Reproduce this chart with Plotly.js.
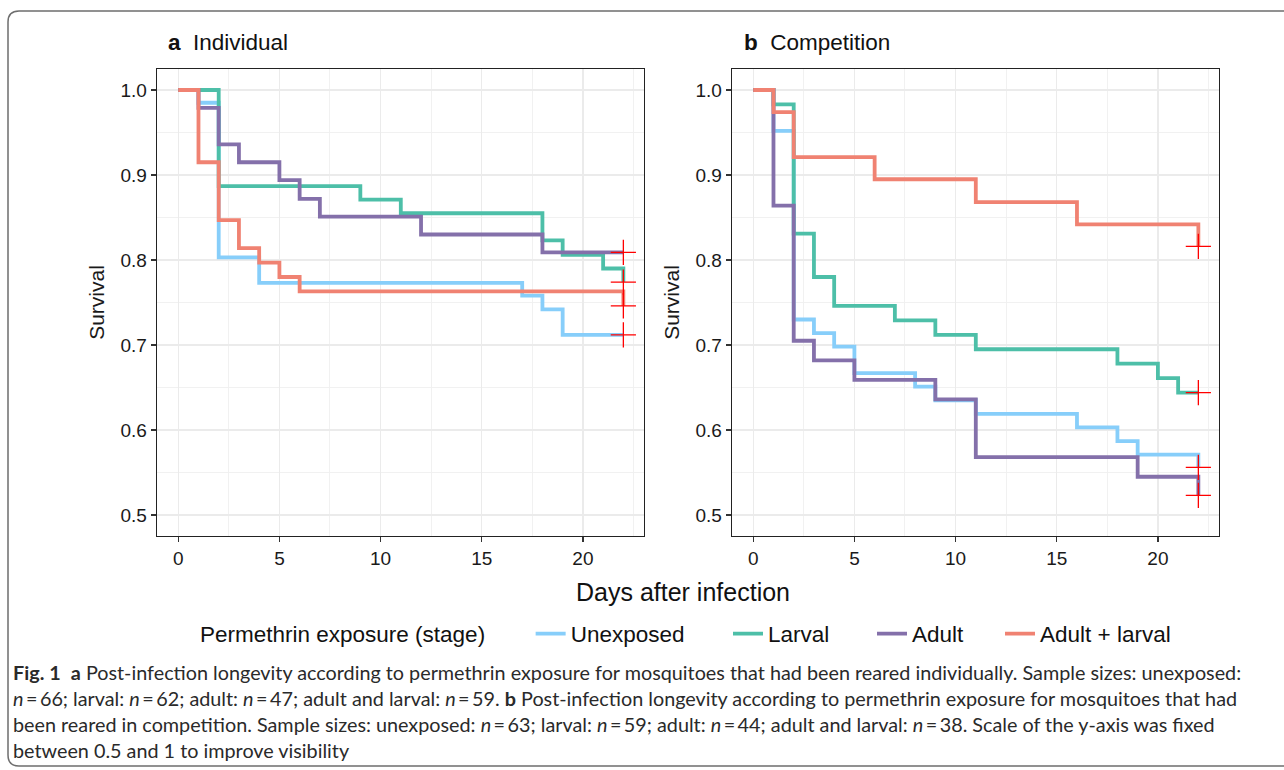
<!DOCTYPE html>
<html>
<head>
<meta charset="utf-8">
<script src="https://cdn.plot.ly/plotly-3.0.1.min.js"></script>
<style>
  html, body { margin: 0; padding: 0; background: #ffffff; }
  #chart { width: 1284px; height: 770px; }
</style>
</head>
<body>
<div id="chart"></div>
<script>
// ---------- data ----------
const groups = ["Unexposed", "Larval", "Adult", "Adult + larval"];
const groupColors = ["#87cefa", "#4dbfa8", "#8470aa", "#f08272"];

// Panel a: Individual
const indUnexposedT = [0, 1, 2, 4, 17, 18, 19, 22];
const indUnexposedS = [1, 0.985, 0.803, 0.773, 0.758, 0.742, 0.712, 0.712];
const indLarvalT = [0, 2, 9, 11, 18, 19, 21, 22];
const indLarvalS = [1, 0.887, 0.871, 0.855, 0.823, 0.806, 0.790, 0.774];
const indAdultT = [0, 1, 2, 3, 5, 6, 7, 12, 18, 22];
const indAdultS = [1, 0.979, 0.936, 0.915, 0.894, 0.872, 0.851, 0.830, 0.809, 0.809];
const indBothT = [0, 1, 2, 3, 4, 5, 6, 22];
const indBothS = [1, 0.915, 0.847, 0.814, 0.797, 0.780, 0.763, 0.746];

// Panel b: Competition
const compUnexposedT = [0, 1, 2, 3, 4, 5, 8, 9, 11, 16, 18, 19, 22];
const compUnexposedS = [1, 0.952, 0.730, 0.714, 0.698, 0.667, 0.651, 0.635, 0.619, 0.603, 0.587, 0.571, 0.556];
const compLarvalT = [0, 1, 2, 3, 4, 7, 9, 11, 18, 20, 21, 22];
const compLarvalS = [1, 0.983, 0.831, 0.780, 0.746, 0.729, 0.712, 0.695, 0.678, 0.661, 0.644, 0.644];
const compAdultT = [0, 1, 2, 3, 5, 9, 11, 19, 22];
const compAdultS = [1, 0.864, 0.705, 0.682, 0.659, 0.636, 0.568, 0.545, 0.523];
const compBothT = [0, 1, 2, 6, 11, 16, 22];
const compBothS = [1, 0.974, 0.921, 0.895, 0.868, 0.842, 0.816];

const xTicks = [0, 5, 10, 15, 20];
const yTicks = [0.5, 0.6, 0.7, 0.8, 0.9, 1.0];

const panelTitles = ["<b>a</b>  Individual", "<b>b</b>  Competition"];
const xTitle = "Days after infection";
const yTitle = "Survival";
const legendTitle = "Permethrin exposure (stage)";

const captionLines = [
  "<b>Fig. 1</b>  <b>a</b> Post-infection longevity according to permethrin exposure for mosquitoes that had been reared individually. Sample sizes: unexposed:",
  "<i>n</i>\u2009=\u200966; larval: <i>n</i>\u2009=\u200962; adult: <i>n</i>\u2009=\u200947; adult and larval: <i>n</i>\u2009=\u200959. <b>b</b> Post-infection longevity according to permethrin exposure for mosquitoes that had",
  "been reared in competition. Sample sizes: unexposed: <i>n</i>\u2009=\u200963; larval: <i>n</i>\u2009=\u200959; adult: <i>n</i>\u2009=\u200944; adult and larval: <i>n</i>\u2009=\u200938. Scale of the y-axis was fixed",
  "between 0.5 and 1 to improve visibility"
];

// ---------- build ----------
const W = 1284, H = 770;
const px = v => v / W;
const py = v => 1 - v / H;
const FONT = "Liberation Sans, Arial, sans-serif";

const panels = [
  { xa: "x", ya: "y", series: [[indUnexposedT, indUnexposedS], [indLarvalT, indLarvalS], [indAdultT, indAdultS], [indBothT, indBothS]] },
  { xa: "x2", ya: "y2", series: [[compUnexposedT, compUnexposedS], [compLarvalT, compLarvalS], [compAdultT, compAdultS], [compBothT, compBothS]] }
];
const legendIds = ["legend", "legend2", "legend3", "legend4"];

const traces = [];
panels.forEach((p, pi) => {
  p.series.forEach((ts, gi) => {
    traces.push({
      type: "scatter", mode: "lines",
      x: ts[0], y: ts[1], xaxis: p.xa, yaxis: p.ya,
      line: { shape: "hv", color: groupColors[gi], width: 3.8 },
      name: groups[gi], legendgroup: groups[gi], legend: legendIds[gi],
      showlegend: pi === 0, hoverinfo: "skip"
    });
  });
  // censor marks at the end of each curve
  traces.push({
    type: "scatter", mode: "markers",
    x: p.series.map(ts => ts[0][ts[0].length - 1]),
    y: p.series.map(ts => ts[1][ts[1].length - 1]),
    xaxis: p.xa, yaxis: p.ya, showlegend: false, hoverinfo: "skip",
    marker: { symbol: "cross-thin", size: 18, color: "#ff0000", line: { color: "#ff0000", width: 1.3 } }
  });
});

const tickFont = { family: FONT, size: 19, color: "#1a1a1a" };
function xAxis(domain) {
  return {
    domain: domain, range: [-1.05, 23.02], tickmode: "array", tickvals: xTicks,
    ticks: "outside", ticklen: 5, tickwidth: 1.2, tickcolor: "#333",
    showline: true, mirror: true, linecolor: "#222", linewidth: 1.3,
    showgrid: true, gridcolor: "#ebebeb", gridwidth: 1.3,
    minor: { dtick: 2.5, tick0: 0, showgrid: true, gridcolor: "#efefef", gridwidth: 0.9, ticks: "" },
    zeroline: false, tickfont: tickFont, fixedrange: true
  };
}
function yAxis(anchor) {
  return {
    domain: [py(536), py(69)], range: [0.4753, 1.0247], anchor: anchor,
    tickmode: "array", tickvals: yTicks, ticktext: yTicks.map(v => v.toFixed(1)),
    ticks: "outside", ticklen: 5, tickwidth: 1.2, tickcolor: "#333",
    showline: true, mirror: true, linecolor: "#222", linewidth: 1.3,
    showgrid: true, gridcolor: "#ebebeb", gridwidth: 1.3,
    minor: { dtick: 0.05, tick0: 0.5, showgrid: true, gridcolor: "#efefef", gridwidth: 0.9, ticks: "" },
    zeroline: false, tickfont: tickFont, fixedrange: true,
    title: { text: yTitle, font: { family: FONT, size: 21, color: "#1a1a1a" }, standoff: 10 }
  };
}

// rounded frame
const fx0 = 8, fy0 = 11, fx1 = 1300, fy1 = 766, r = 11;
const framePath = [
  `M ${px(fx1)},${py(fy0)}`,
  `L ${px(fx0 + r)},${py(fy0)}`,
  `Q ${px(fx0)},${py(fy0)} ${px(fx0)},${py(fy0 + r)}`,
  `L ${px(fx0)},${py(fy1 - r)}`,
  `Q ${px(fx0)},${py(fy1)} ${px(fx0 + r)},${py(fy1)}`,
  `L ${px(fx1)},${py(fy1)}`
].join(" ");

const annotations = [];
panelTitles.forEach((t, i) => {
  annotations.push({
    text: t, xref: "paper", yref: "paper", x: px(i === 0 ? 166 : 742), y: py(42),
    xanchor: "left", yanchor: "middle", showarrow: false,
    font: { family: FONT, size: 22.5, color: "#111" }
  });
});
annotations.push({
  text: xTitle, xref: "paper", yref: "paper", x: px(683), y: py(592),
  xanchor: "center", yanchor: "middle", showarrow: false,
  font: { family: FONT, size: 25, color: "#111" }
});
const capY = [672, 698, 724, 750];
captionLines.forEach((t, i) => {
  annotations.push({
    text: t, xref: "paper", yref: "paper", x: px(11), y: py(capY[i]),
    xanchor: "left", yanchor: "middle", showarrow: false, align: "left",
    font: { family: "Lato, Open Sans, sans-serif", size: 19.8, color: "#2a2a2a" }
  });
});

const legFont = { family: FONT, size: 22.5, color: "#111" };
function legendAt(x, withTitle) {
  const l = {
    orientation: "h", x: px(x), y: py(634), xanchor: "left", yanchor: "middle",
    font: legFont, bgcolor: "rgba(0,0,0,0)", itemwidth: 30, borderwidth: 0
  };
  if (withTitle) l.title = { text: legendTitle + "      ", side: "left", font: legFont };
  return l;
}

const layout = {
  width: W, height: H, margin: { l: 0, r: 0, t: 0, b: 0 },
  paper_bgcolor: "#ffffff", plot_bgcolor: "#ffffff",
  xaxis: xAxis([px(157), px(644)]),
  yaxis: yAxis("x"),
  xaxis2: Object.assign(xAxis([px(732), px(1219)]), { anchor: "y2" }),
  yaxis2: yAxis("x2"),
  showlegend: true,
  legend: legendAt(198, true),
  legend2: legendAt(728, false),
  legend3: legendAt(872, false),
  legend4: legendAt(1000, false),
  shapes: [{ type: "path", xref: "paper", yref: "paper", path: framePath, line: { color: "#6e6e6e", width: 1.5 } }],
  annotations: annotations
};

Plotly.newPlot("chart", traces, layout, { displayModeBar: false, staticPlot: true });
</script>
</body>
</html>
